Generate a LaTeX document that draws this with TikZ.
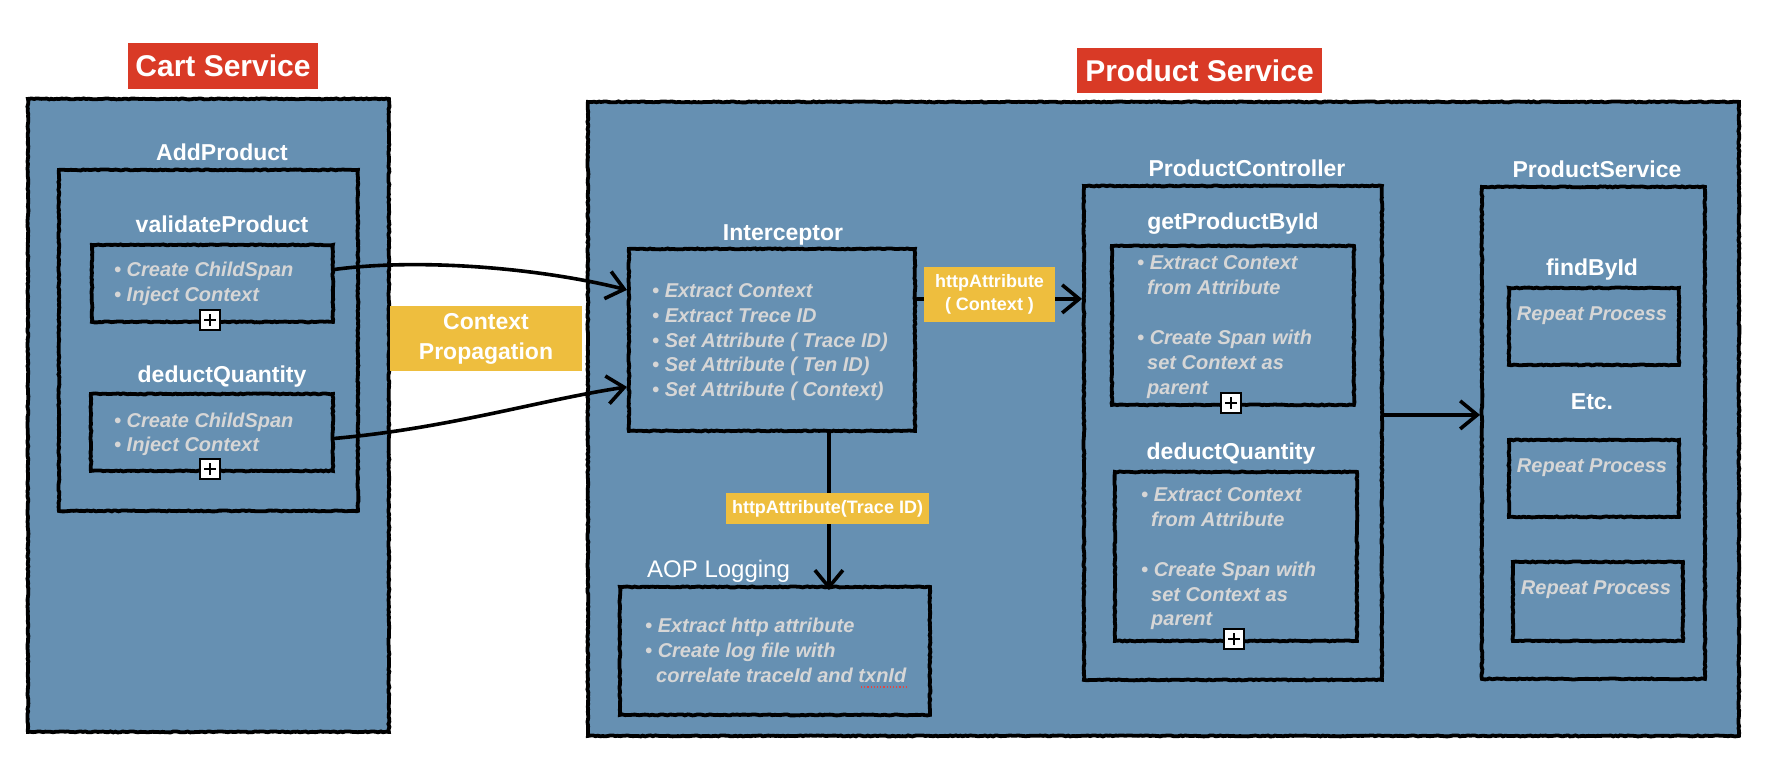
\documentclass[tikz,border=0pt]{standalone}
\usepackage{fontspec}
\setmainfont{Liberation Sans}
\usetikzlibrary{arrows.meta,decorations.pathmorphing}
\definecolor{bgblue}{RGB}{102,144,178}
\definecolor{svcred}{RGB}{217,58,38}
\definecolor{tagyellow}{RGB}{238,190,62}
\definecolor{bgray}{RGB}{214,214,214}
\definecolor{spellred}{RGB}{225,70,70}
\begin{document}
\begin{tikzpicture}[x=1pt,y=-1pt,
  rough/.style={draw=black, line width=3.8pt, decorate,
    decoration={random steps, segment length=2.5pt, amplitude=0.5pt}},
  outerbox/.style={rough, fill=bgblue, inner sep=0, anchor=north west},
  box/.style={rough, inner sep=0, anchor=north west},
  title/.style={text=white, font=\bfseries\fontsize{23}{27}\selectfont, inner sep=0, anchor=base},
  btxt/.style={text=bgray, font=\bfseries\itshape\fontsize{20}{25}\selectfont, inner sep=0, anchor=base west},
  ctxt/.style={text=bgray, font=\bfseries\itshape\fontsize{20}{25}\selectfont, inner sep=0, anchor=base},
  tag/.style={fill=tagyellow, text=white, font=\bfseries\fontsize{18}{23}\selectfont, inner sep=0, align=center},
  svc/.style={fill=svcred, text=white, font=\bfseries\fontsize{30}{36}\selectfont, inner sep=0},
  plusbox/.style={draw=black, fill=white, line width=1.8pt, minimum size=20pt, inner sep=0,
    path picture={\draw[line width=1.6pt] ([xshift=-6pt]path picture bounding box.center) -- ([xshift=6pt]path picture bounding box.center);
                  \draw[line width=1.6pt] ([yshift=-6pt]path picture bounding box.center) -- ([yshift=6pt]path picture bounding box.center);}},
  arr/.style={draw=black, line width=3.6pt, line cap=round,
    -{Straight Barb[length=17pt, width=28pt, line width=3.6pt]}}
]
\pgfmathsetseed{7}
\useasboundingbox (0,0) rectangle (1776,766);

% ---------- outer containers ----------
\node[outerbox, minimum width=361, minimum height=633] (cart) at (26,97) {};
\node[outerbox, minimum width=1151, minimum height=634] (prod) at (586,100) {};

\node[svc, minimum width=190, minimum height=46] (cartlbl) at (223,66) {Cart Service};
\node[svc, minimum width=245, minimum height=45] (prodlbl) at (1199.5,70.5) {Product Service};

% ---------- Cart service ----------
\node[title] (addlbl) at (222,160) {AddProduct};
\node[box, minimum width=299, minimum height=341] (add) at (57,168) {};
\node[title] (vallbl) at (222,232) {validateProduct};
\node[box, minimum width=241, minimum height=77] (val) at (90,243) {};
\node[btxt] (v1) at (114,276) {• Create ChildSpan};
\node[btxt] (v2) at (114,301) {• Inject Context};
\node[plusbox] (vplus) at (210,320) {};
\node[title] (dqlbl) at (222,382) {deductQuantity};
\node[box, minimum width=242, minimum height=77] (dq) at (89,392) {};
\node[btxt] (d1) at (114,427) {• Create ChildSpan};
\node[btxt] (d2) at (114,451) {• Inject Context};
\node[plusbox] (dplus) at (210,469) {};

% ---------- Interceptor ----------
\node[title] (intlbl) at (783,240) {Interceptor};
\node[box, minimum width=286, minimum height=182] (int) at (627,247) {};
\node[btxt] (i1) at (652,297) {• Extract Context};
\node[btxt] (i2) at (652,322) {• Extract Trece ID};
\node[btxt] (i3) at (652,347) {• Set Attribute ( Trace ID)};
\node[btxt] (i4) at (652,371) {• Set Attribute ( Ten ID)};
\node[btxt] (i5) at (652,396) {• Set Attribute ( Context)};

% ---------- AOP Logging ----------
\node[text=white, font=\fontsize{24}{28}\selectfont, inner sep=0, anchor=base west] (aoplbl) at (647,577) {AOP Logging};
\node[box, minimum width=310, minimum height=128] (aop) at (618,585) {};
\node[btxt] (a1) at (645,632) {• Extract http attribute};
\node[btxt] (a2) at (645,657) {• Create log file with};
\node[btxt] (a3) at (656,682) {correlate traceId and txnId};
\draw[spellred, dotted, line width=1.2pt] (861,687) -- (907,687);

% ---------- ProductController ----------
\node[title] (pclbl) at (1247,176) {ProductController};
\node[box, minimum width=298, minimum height=494] (pc) at (1082,184) {};
\node[title] (gplbl) at (1233,229) {getProductById};
\node[box, minimum width=242, minimum height=159] (gp) at (1110,244) {};
\node[btxt] (g1) at (1137,269) {• Extract Context};
\node[btxt] (g2) at (1147,294) {from Attribute};
\node[btxt] (g3) at (1137,344) {• Create Span with};
\node[btxt] (g4) at (1147,369) {set Context as};
\node[btxt] (g5) at (1147,394) {parent};
\node[plusbox] (gplus) at (1231,403) {};
\node[title] (pdqlbl) at (1231,459) {deductQuantity};
\node[box, minimum width=242, minimum height=169] (pdq) at (1113,470) {};
\node[btxt] (p1) at (1141,501) {• Extract Context};
\node[btxt] (p2) at (1151,526) {from Attribute};
\node[btxt] (p3) at (1141,576) {• Create Span with};
\node[btxt] (p4) at (1151,601) {set Context as};
\node[btxt] (p5) at (1151,625) {parent};
\node[plusbox] (pplus) at (1234,639) {};

% ---------- ProductService ----------
\node[title] (pslbl) at (1597,177) {ProductService};
\node[box, minimum width=223, minimum height=492] (ps) at (1480,185) {};
\node[title] (fblbl) at (1592,275) {findById};
\node[box, minimum width=170, minimum height=77] (r1) at (1507,286) {};
\node[ctxt] (r1t) at (1592,320) {Repeat Process};
\node[title] (etc) at (1592,409) {Etc.};
\node[box, minimum width=170, minimum height=77] (r2) at (1507,438) {};
\node[ctxt] (r2t) at (1592,472) {Repeat Process};
\node[box, minimum width=170, minimum height=79] (r3) at (1511,560) {};
\node[ctxt] (r3t) at (1596,594) {Repeat Process};

% ---------- connectors ----------
\coordinate (vs) at ([yshift=14pt]val.east);
\coordinate (ds) at ([yshift=-6pt]dq.east);
\coordinate (it1) at ([yshift=50pt]int.west);
\coordinate (it2) at ([yshift=-47pt]int.west);
\draw[arr] (vs) .. controls (420,258) and (540,268) .. (it1);
\draw[arr] (ds) .. controls (450,428) and (540,400) .. (it2);

\coordinate (ia) at ([yshift=41pt]int.east);
\draw[arr] (ia) -- (ia -| pc.west);

\coordinate (ib) at ([xshift=57pt]int.south);
\draw[arr] (ib) -- ([yshift=-5pt]ib |- aop.north);

\coordinate (pa) at ([yshift=18pt]pc.east);
\draw[arr] (pa) -- (pa -| ps.west);

% ---------- tags ----------
\node[tag, font=\bfseries\fontsize{23}{30}\selectfont, minimum width=192, minimum height=65] (ctxprop) at (486,338.5) {Context\\Propagation};
\node[tag, minimum width=131, minimum height=55] (hctx) at (989.5,294.5) {httpAttribute\\( Context )};
\node[tag, minimum width=203, minimum height=31] (htrace) at (827.5,508.5) {httpAttribute(Trace ID)};
\end{tikzpicture}
\end{document}
